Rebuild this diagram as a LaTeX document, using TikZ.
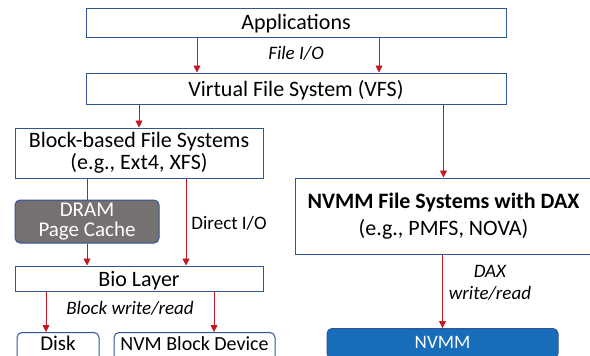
\documentclass[tikz,border=0pt]{standalone}
\usepackage{fontspec}
\setmainfont{Carlito}
\usetikzlibrary{arrows.meta}

\definecolor{boxblue}{RGB}{47,85,151}
\definecolor{cachegray}{RGB}{118,113,113}
\definecolor{nvmmblue}{RGB}{23,109,186}
\definecolor{iored}{RGB}{196,24,34}

\begin{document}
\begin{tikzpicture}[x=1pt,y=-1pt,
	layer/.style={draw=boxblue,line width=1pt,fill=white,inner sep=0pt,align=center,
		font=\fontsize{22}{21.5}\selectfont},
	onerow/.style={layer,text height=15pt,text depth=0pt},
	dev/.style={layer,rounded corners=5pt,anchor=north,minimum height=30pt,
		font=\fontsize{20}{21}\selectfont,text height=13pt,text depth=8pt},
	lbl/.style={inner sep=2pt,align=center,text=black,font=\fontsize{19}{22}\selectfont\itshape},
	io/.style={color=iored,line width=0.75pt},
	>={Triangle[width=7pt,length=7pt]}]
	\useasboundingbox (0,0) rectangle (590,356);
	\clip (0,0) rectangle (590,356);

	\node[onerow,minimum width=420pt,minimum height=29pt]	(app)	at (296,22.5)	{Applications};
	\node[onerow,minimum width=420pt,minimum height=31pt]	(vfs)	at (296,88.5)	{Virtual File System (VFS)};
	\node[layer,minimum width=248pt,minimum height=50pt]	(bfs)	at (139,153)	{Block-based File Systems\\(e.g., Ext4, XFS)};
	\node[layer,rounded corners=5pt,fill=cachegray,text=white,minimum width=144pt,minimum height=43pt,
		font=\fontsize{21}{19.5}\selectfont]	(cache)	at (87,221.5)	{DRAM\\Page Cache};
	\node[onerow,minimum width=248pt,minimum height=25pt]	(bio)	at (139,278.5)	{Bio Layer};
	\node[dev,minimum width=82pt,font=\fontsize{21}{21}\selectfont]	(disk)	at (58,332)	{Disk};
	\node[dev,minimum width=161pt]	(nvmblk)	at (194.5,332)	{NVM Block Device};
	\node[layer,minimum width=296pt,minimum height=76pt,
		font=\fontsize{22}{27}\selectfont]	(nvmmfs)	at (443.5,216)	{\textbf{NVMM File Systems with DAX}\\(e.g., PMFS, NOVA)};
	\node[dev,fill=nvmmblue,text=white,minimum width=231pt,
		font=\fontsize{19}{20}\selectfont,text height=12pt,text depth=1.4pt]	(nvmm)	at (442.5,328)	{NVMM};

	\node[lbl]	(fileio)	at (296,53)	{File I/O};
	\node[lbl]	(blkio)	at (130,308.5)	{Block write/read};

	\path[io,->]
		([xshift=-99pt]app.south)	edge		([xshift=-99pt]vfs.north)
		([xshift=83pt]app.south)	edge		([xshift=83pt]vfs.north)
		(vfs.south -| bfs.north)	edge		(bfs.north)
		(vfs.south -| nvmmfs.north)	edge		(nvmmfs.north)
		([xshift=47pt]bfs.south)	edge	node[lbl,font=\fontsize{19}{22}\selectfont,right=3pt,pos=0.51] {Direct I/O}	([xshift=47pt]bio.north)
		(cache.south)	edge		(cache.south |- bio.north)
		([xshift=-93pt]bio.south)	edge		([xshift=-93pt]bio.south |- disk.north)
		([xshift=75pt]bio.south)	edge		([xshift=75pt]bio.south |- nvmblk.north)
		(nvmmfs.south -| nvmm.north)	edge	node[lbl,right=4pt,pos=0.39] {DAX\\write/read}	(nvmm.north)
		;
	\draw[io] (bfs.south -| cache.north) -- (cache.north);
\end{tikzpicture}
\end{document}
